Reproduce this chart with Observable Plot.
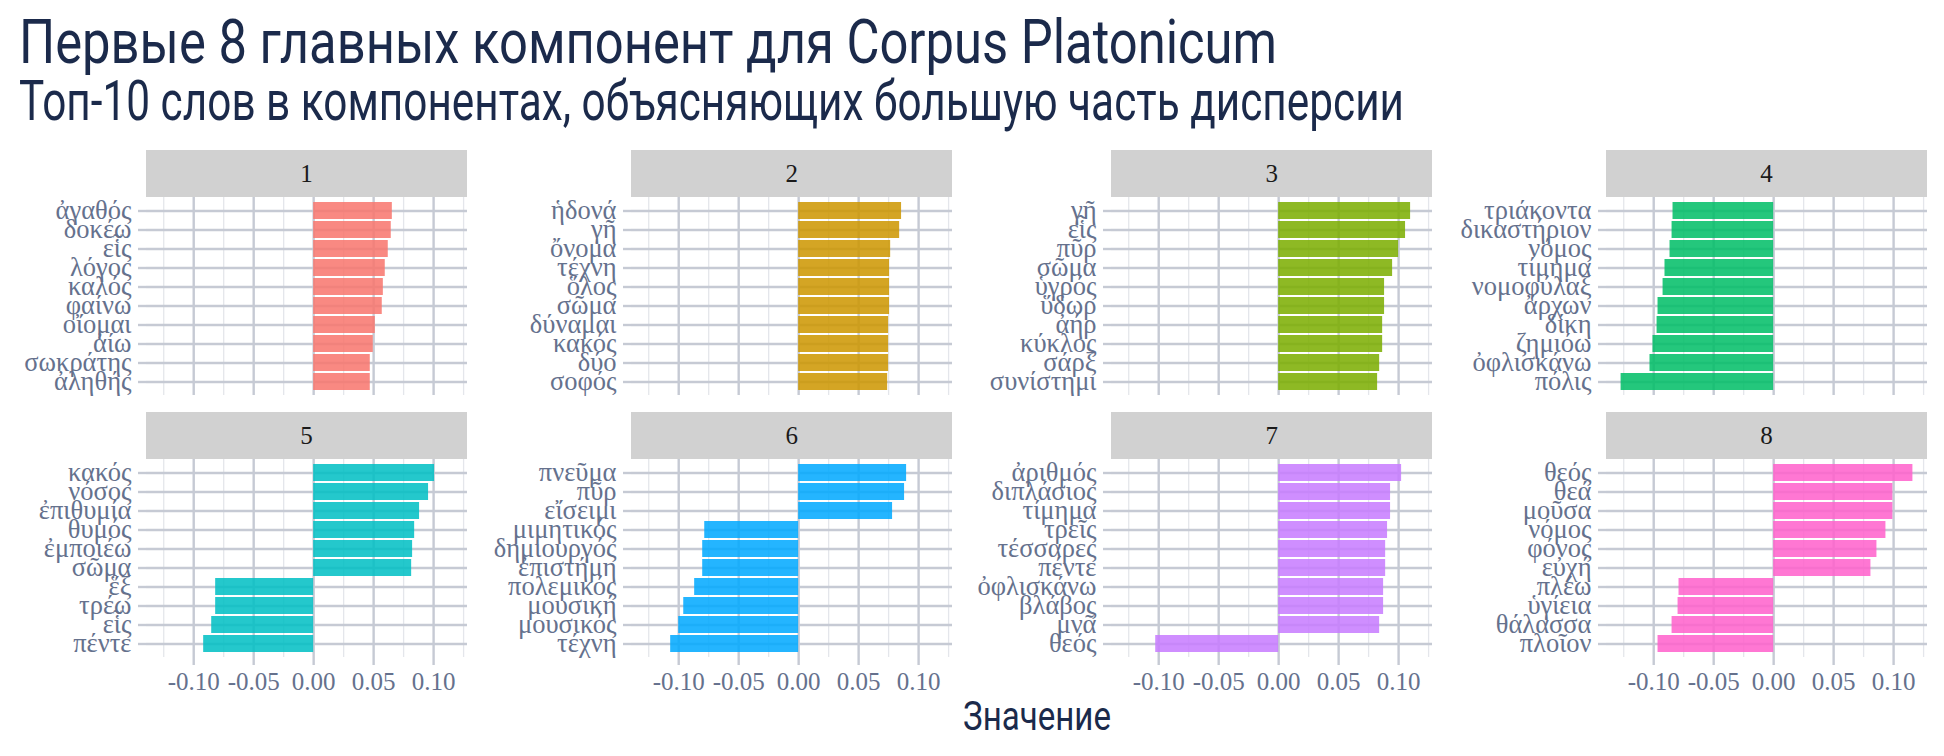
<!DOCTYPE html>
<html>
<head>
<meta charset="utf-8">
<script src="https://cdn.jsdelivr.net/npm/d3@7"></script>
<script src="https://cdn.jsdelivr.net/npm/@observablehq/plot@0.6"></script>
<style>
  html, body { margin: 0; padding: 0; background: #ffffff; }
  #root { position: relative; width: 1944px; height: 756px; overflow: hidden; background: #fff; }
  .ttl { position: absolute; white-space: nowrap; font-family: Roboto, sans-serif; color: #1B2A4B; line-height: 1; transform-origin: 0 0; }
  .strip { position: absolute; background: #D1D1D1; color: #1a1a1a; font-family: "Liberation Serif", serif; font-size: 25px; text-align: center; }
  .pnl { position: absolute; }
  .pnl svg { overflow: visible; max-width: none !important; }
</style>
</head>
<body>
<div id="root"></div>
<script>
// ---------- data ----------
const components = ["1", "2", "3", "4", "5", "6", "7", "8"];
const componentColors = ["#F8766D", "#CD9600", "#7CAE00", "#00BE67", "#00BFC4", "#00A9FF", "#C77CFF", "#FF61CC"];

const pc1Words = ["ἀγαθός", "δοκέω", "εἷς", "λόγος", "καλός", "φαίνω", "οἴομαι", "ἀίω", "σωκράτης", "ἀληθής"];
const pc1Values = [0.0656, 0.0647, 0.0622, 0.0597, 0.0581, 0.0572, 0.0514, 0.0497, 0.0472, 0.0472];

const pc2Words = ["ἡδονά", "γῆ", "ὄνομα", "τέχνη", "ὅλος", "σῶμα", "δύναμαι", "κακός", "δύο", "σοφός"];
const pc2Values = [0.0858, 0.0842, 0.0767, 0.0758, 0.0758, 0.0758, 0.0750, 0.0750, 0.0750, 0.0742];

const pc3Words = ["γῆ", "εἷς", "πῦρ", "σῶμα", "ὑγρός", "ὕδωρ", "ἀήρ", "κύκλος", "σάρξ", "συνίστημι"];
const pc3Values = [0.1100, 0.1058, 0.1000, 0.0950, 0.0883, 0.0883, 0.0867, 0.0867, 0.0842, 0.0825];

const pc4Words = ["τριάκοντα", "δικαστήριον", "νόμος", "τίμημα", "νομοφύλαξ", "ἄρχων", "δίκη", "ζημιόω", "ὀφλισκάνω", "πόλις"];
const pc4Values = [-0.0839, -0.0847, -0.0864, -0.0906, -0.0922, -0.0964, -0.0972, -0.1006, -0.1031, -0.1272];

const pc5Words = ["κακός", "νόσος", "ἐπιθυμία", "θυμός", "ἐμποιέω", "σῶμα", "ἕξ", "τρέω", "εἷς", "πέντε"];
const pc5Values = [0.1008, 0.0958, 0.0883, 0.0842, 0.0825, 0.0817, -0.0817, -0.0817, -0.0850, -0.0917];

const pc6Words = ["πνεῦμα", "πῦρ", "εἴσειμι", "μιμητικός", "δημιουργός", "ἐπιστήμη", "πολεμικός", "μουσική", "μουσικός", "τέχνη"];
const pc6Values = [0.0900, 0.0883, 0.0783, -0.0783, -0.0800, -0.0800, -0.0867, -0.0958, -0.1000, -0.1067];

const pc7Words = ["ἀριθμός", "διπλάσιος", "τίμημα", "τρεῖς", "τέσσαρες", "πέντε", "ὀφλισκάνω", "βλάβος", "μνᾶ", "θεός"];
const pc7Values = [0.1025, 0.0933, 0.0933, 0.0908, 0.0892, 0.0892, 0.0875, 0.0875, 0.0842, -0.1025];

const pc8Words = ["θεός", "θεά", "μοῦσα", "νόμος", "φόνος", "εὐχή", "πλέω", "ὑγίεια", "θάλασσα", "πλοῖον"];
const pc8Values = [0.1161, 0.0994, 0.0994, 0.0936, 0.0861, 0.0811, -0.0789, -0.0797, -0.0847, -0.0964];

const majorTicks = [-0.10, -0.05, 0.00, 0.05, 0.10];
const minorTicks = [-0.125, -0.075, -0.025, 0.025, 0.075, 0.125];

const titleText = "Первые 8 главных компонент для Corpus Platonicum";
const subtitleText = "Топ-10 слов в компонентах, объясняющих большую часть дисперсии";
const xLabelText = "Значение";

// ---------- layout ----------
const wordsList = [pc1Words, pc2Words, pc3Words, pc4Words, pc5Words, pc6Words, pc7Words, pc8Words];
const valuesList = [pc1Values, pc2Values, pc3Values, pc4Values, pc5Values, pc6Values, pc7Values, pc8Values];

const allVals = valuesList.flat();
const vmin = d3.min(allVals), vmax = d3.max(allVals);
const pad = (vmax - vmin) * 0.05;
const xDomain = [vmin - pad, vmax + pad];

const colLeft = [146, 631.3, 1111.3, 1606];
const PW = 321;          // panel width
const PH = 198;          // panel height
const stripH = 47;
const rowStripTop = [149.5, 412];
const LW = 230;          // room for labels
const MR = 40;
const MB = 60;
const GRID = "#C6CAD4";
const GRID_MINOR = "#E4E6EB";
const TEXT = "#65718D";

const root = document.getElementById("root");

function addText(txt, cls, left, baseline, size, targetWidth) {
  const el = document.createElement("div");
  el.className = cls;
  el.textContent = txt;
  el.style.left = left + "px";
  el.style.top = (baseline - 0.8415 * size) + "px";
  el.style.fontSize = size + "px";
  root.appendChild(el);
  if (targetWidth) {
    const w = el.getBoundingClientRect().width;
    el.style.transform = `scaleX(${targetWidth / w})`;
  }
  return el;
}

// title & subtitle
addText(titleText, "ttl", 18.6, 63, 62, 1258);
addText(subtitleText, "ttl", 18.6, 120.5, 55, 1385);

function panel(words, values, color, bottom) {
  const data = words.map((w, i) => ({word: w, value: values[i]}));
  const marks = [
    Plot.gridX(minorTicks, {stroke: GRID_MINOR, strokeOpacity: 1, strokeWidth: 1.3}),
    Plot.gridX(majorTicks, {stroke: GRID, strokeOpacity: 1, strokeWidth: 2.4}),
    Plot.gridY({stroke: GRID, strokeOpacity: 1, strokeWidth: 2.4}),
    Plot.barX(data, {x: "value", y: "word", fill: color, fillOpacity: 0.86}),
    Plot.axisY({tickSize: 8, tickPadding: 7, stroke: GRID, strokeWidth: 2.4, label: null, fill: TEXT, fontSize: 26.5})
  ];
  if (bottom) {
    marks.push(Plot.axisX(majorTicks, {tickSize: 8, tickPadding: 7, stroke: GRID, strokeWidth: 2.4,
      label: null, fill: TEXT, tickFormat: d => d.toFixed(2)}));
  }
  return Plot.plot({
    width: LW + PW + MR,
    height: PH + (bottom ? MB : 0),
    marginLeft: LW, marginRight: MR, marginTop: 0, marginBottom: bottom ? MB : 0,
    x: {domain: xDomain, axis: bottom ? undefined : null},
    y: {domain: words, paddingInner: 0.1, paddingOuter: 0.15},
    style: {fontFamily: "'Liberation Serif', serif", fontSize: "25px", color: TEXT, background: "transparent", overflow: "visible", maxWidth: "none"},
    marks
  });
}

components.forEach((c, k) => {
  const row = Math.floor(k / 4), col = k % 4;
  const stripTop = rowStripTop[row];
  const strip = document.createElement("div");
  strip.className = "strip";
  strip.style.left = colLeft[col] + "px";
  strip.style.top = stripTop + "px";
  strip.style.width = PW + "px";
  strip.style.height = stripH + "px";
  strip.style.lineHeight = stripH + "px";
  strip.textContent = c;
  root.appendChild(strip);

  const wrap = document.createElement("div");
  wrap.className = "pnl";
  wrap.style.left = (colLeft[col] - LW) + "px";
  wrap.style.top = (stripTop + stripH) + "px";
  wrap.style.width = (LW + PW + MR) + "px";
  wrap.appendChild(panel(wordsList[k], valuesList[k], componentColors[k], row === 1));
  root.appendChild(wrap);
});

// x-axis title
addText(xLabelText, "ttl", 1037 - 74, 731, 41, 148);
</script>
</body>
</html>
